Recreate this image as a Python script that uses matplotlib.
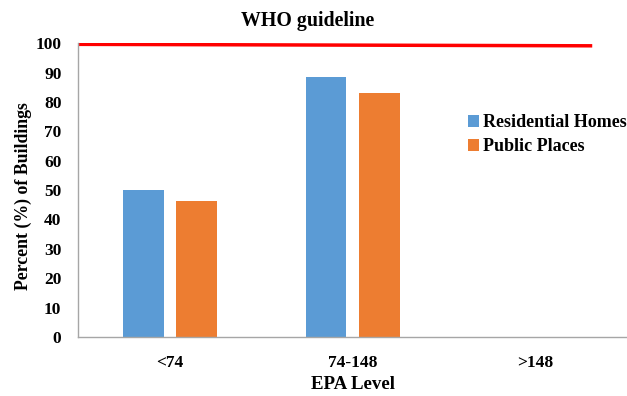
import matplotlib.pyplot as plt
import numpy as np

plt.rcParams['font.family'] = ['Liberation Serif', 'DejaVu Serif']
plt.rcParams['font.weight'] = 'bold'

# data
categories = ['<74', '74-148', '>148']
residential = [50, 88.5, 0]
public = [46.3, 83, 0]
who_x = [-0.5, 2.31]
who_y = [99.6, 99.1]

blue = '#5B9BD5'
orange = '#ED7D31'

fig = plt.figure(figsize=(6.27, 3.96), dpi=100)
ax = fig.add_axes([0.1245, 0.149, 0.8755, 0.742])

x = np.arange(len(categories))
w = 0.224
ax.bar(x - 0.145, residential, w, color=blue, label='Residential Homes')
ax.bar(x + 0.145, public, w, color=orange, label='Public Places')
ax.plot(who_x, who_y, color='red', lw=2.5, solid_capstyle='butt')

ax.set_xlim(-0.5, 2.5)
ax.set_ylim(0, 100)
ax.set_yticks(range(0, 101, 10))
ax.set_xticks(x)
ax.set_xticklabels(categories)
ax.tick_params(length=0, labelsize=12.5)
ax.tick_params(axis='y', pad=12)
ax.tick_params(axis='x', pad=13)

for s in ['top', 'right']:
    ax.spines[s].set_visible(False)
for s in ['left', 'bottom']:
    ax.spines[s].set_color('#A6A6A6')
    ax.spines[s].set_linewidth(1)

ax.set_xlabel('EPA Level', fontsize=13.6, fontweight='bold', labelpad=3.5)
fig.text(0.038, 0.505, 'Percent (%) of Buildings', rotation=90, fontsize=12.8,
         fontweight='bold', ha='center', va='center')
fig.text(0.49, 0.948, 'WHO guideline', fontsize=14.3, fontweight='bold',
         ha='center', va='center')

ax.legend(loc='upper left', bbox_to_anchor=(468 / 627, 0.712), bbox_transform=fig.transFigure,
          frameon=False, fontsize=13, handlelength=0.62, handleheight=0.62,
          handletextpad=0.2, labelspacing=0.4, borderpad=0, borderaxespad=0)

fig.savefig('out.png', dpi=100)
